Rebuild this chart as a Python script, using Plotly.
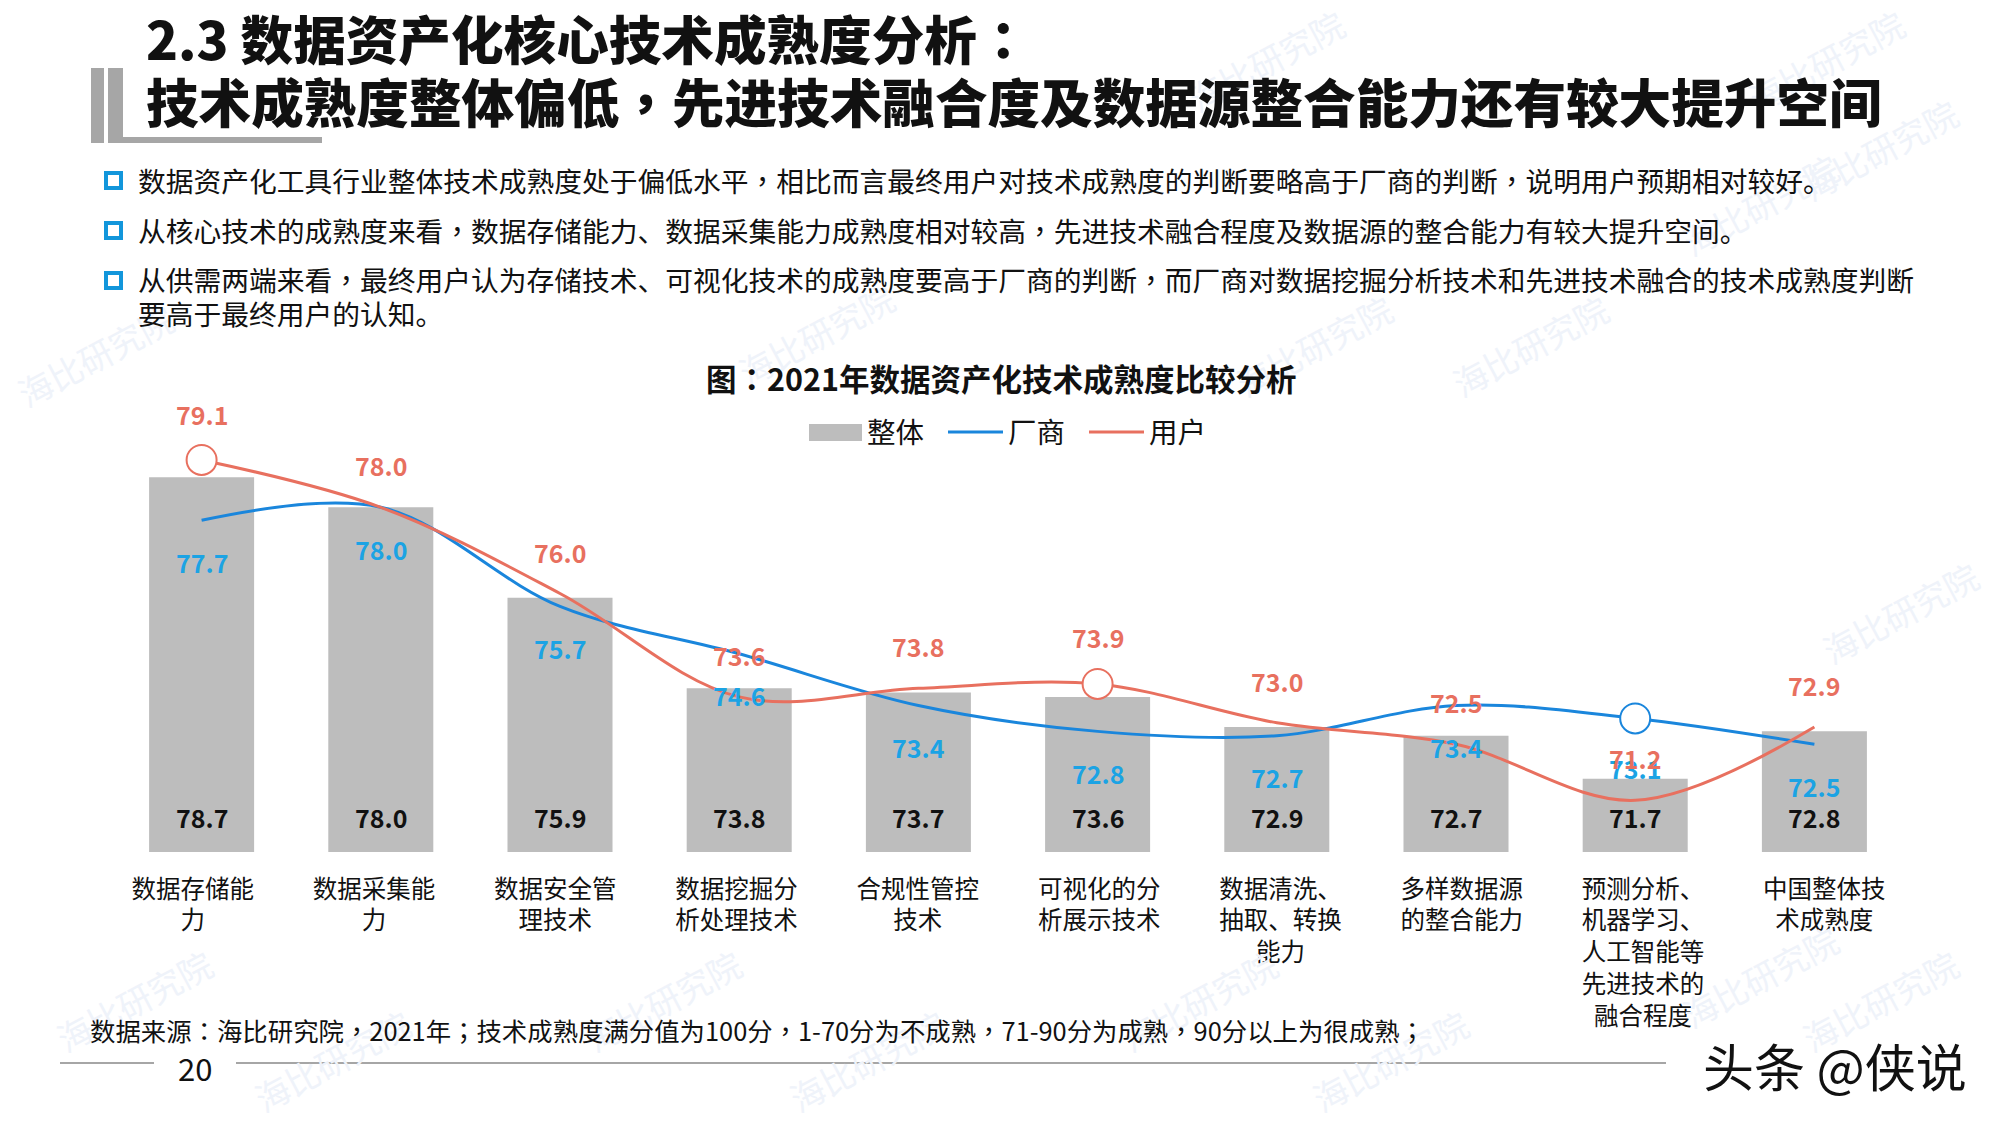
"""
2021 data assetization tech maturity slide: bars for the overall score,
smoothed lines for vendors and end users, plus the slide text around it.
"""
import re

import plotly.graph_objects as go

FONT = "Noto Sans CJK SC"
PUNCT_FONT = "Noto Sans CJK TC"  # its full-width marks sit centred, like the slide
RED = "#E8705F"
BLUE = "#1A86DC"
BLUE_LABEL = "#1BA3E4"
GREY = "#BDBDBD"
RULE = "#A6A6A6"

categories = ["数据存储能<br>力", "数据采集能<br>力", "数据安全管<br>理技术",
              "数据挖掘分<br>析处理技术", "合规性管控<br>技术",
              "可视化的分<br>析展示技术", "数据清洗、<br>抽取、转换<br>能力",
              "多样数据源<br>的整合能力",
              "预测分析、<br>机器学习、<br>人工智能等<br>先进技术的<br>融合程度",
              "中国整体技<br>术成熟度"]
overall = [78.7, 78.0, 75.9, 73.8, 73.7, 73.6, 72.9, 72.7, 71.7, 72.8]
vendor = [77.7, 78.0, 75.7, 74.6, 73.4, 72.8, 72.7, 73.4, 73.1, 72.5]
user = [79.1, 78.0, 76.0, 73.6, 73.8, 73.9, 73.0, 72.5, 71.2, 72.9]

# points that carry the hollow circle in the original
user_circled = [0, 5]
vendor_circled = [8]

title_lines = ["2.3 数据资产化核心技术成熟度分析：",
               "技术成熟度整体偏低，先进技术融合度及数据源整合能力还有较大提升空间"]
bullets = ["数据资产化工具行业整体技术成熟度处于偏低水平，相比而言最终用户对技术成熟度的判断要略高于厂商的判断，说明用户预期相对较好。",
           "从核心技术的成熟度来看，数据存储能力、数据采集能力成熟度相对较高，先进技术融合程度及数据源的整合能力有较大提升空间。",
           "从供需两端来看，最终用户认为存储技术、可视化技术的成熟度要高于厂商的判断，而厂商对数据挖掘分析技术和先进技术融合的技术成熟度判断",
           "要高于最终用户的认知。"]
chart_title = "图：2021年数据资产化技术成熟度比较分析"
source_note = "数据来源：海比研究院，2021年；技术成熟度满分值为100分，1-70分为不成熟，71-90分为成熟，90分以上为很成熟；"

# where the faint "海比研究院" stamps sit on the slide
stamps = [(1266, 60), (1826, 60), (1880, 150), (95, 355), (816, 334),
          (1314, 345), (1530, 345), (1760, 204), (1199, 1000), (1760, 976),
          (1390, 1060), (867, 1060), (663, 1000), (134, 1000), (332, 1060),
          (1880, 1000), (1900, 612)]

LEFT, RIGHT, TOP, BOTTOM = 102, 1915, 335, 852


def px_x(x):
    return (x - LEFT) / (RIGHT - LEFT)


def px_y(y):
    return (BOTTOM - y) / (BOTTOM - TOP)


def centred_marks(text):
    return re.sub("([，；：])", f'<span style="font-family:{PUNCT_FONT}">\\1</span>', text)


def page_text(x, y, text, size, color="#111111", weight=400, anchor="left"):
    return dict(xref="paper", yref="paper", x=px_x(x), y=px_y(y),
                text=centred_marks(text), showarrow=False, xanchor=anchor,
                yanchor="middle",
                font=dict(family=FONT, size=size, color=color, weight=weight))


def value_label(x, y, text, shift, color):
    return dict(x=x, y=y, text=text, showarrow=False, yshift=shift,
                xanchor="center", yanchor="middle",
                font=dict(family=FONT, size=25, color=color, weight=700))


def page_rect(x0, y0, x1, y1, fill, line=None, width=0):
    return dict(type="rect", xref="paper", yref="paper", layer="above",
                x0=px_x(x0), x1=px_x(x1), y0=px_y(y0), y1=px_y(y1),
                fillcolor=fill, line=dict(color=line or fill, width=width))


def page_line(x0, x1, y):
    return dict(type="line", xref="paper", yref="paper", layer="below",
                x0=px_x(x0), x1=px_x(x1), y0=px_y(y), y1=px_y(y),
                line=dict(color=RULE, width=2))


def circles(indices, values, color):
    return go.Scatter(x=[categories[i] for i in indices],
                      y=[values[i] for i in indices], mode="markers",
                      showlegend=False, hoverinfo="skip",
                      marker=dict(size=30, color="white",
                                  line=dict(color=color, width=2)))


fig = go.Figure()
fig.add_trace(go.Bar(x=categories, y=overall, name="整体", marker_color=GREY,
                     marker_line_width=0))
fig.add_trace(go.Scatter(x=categories, y=vendor, name="厂商", mode="lines",
                         line=dict(color=BLUE, width=3, shape="spline", smoothing=1)))
fig.add_trace(go.Scatter(x=categories, y=user, name="用户", mode="lines",
                         line=dict(color=RED, width=3, shape="spline", smoothing=1)))
fig.add_trace(circles(vendor_circled, vendor, BLUE))
fig.add_trace(circles(user_circled, user, RED))
# empty trace, only there so the slightly wider label axis gets drawn
fig.add_trace(go.Scatter(x=categories, y=[None] * 10, xaxis="x2", mode="lines",
                         showlegend=False, hoverinfo="skip"))

notes = []
for x, y in stamps:
    stamp = page_text(x, y, "海比研究院", 34, "#EFF3FA", anchor="center")
    stamp["textangle"] = -28
    notes.append(stamp)

for i in range(10):
    # a few labels sit further from their point on the slide
    user_shift = {0: 46, 5: 47}.get(i, 42)
    vendor_shift = {8: -50}.get(i, -41.5)
    notes.append(value_label(categories[i], 70, f"{overall[i]:.1f}", 35, "#111111"))
    notes.append(value_label(categories[i], vendor[i], f"{vendor[i]:.1f}", vendor_shift, BLUE_LABEL))
    notes.append(value_label(categories[i], user[i], f"{user[i]:.1f}", user_shift, RED))

notes.append(page_text(144, 37, title_lines[0], 52.6, weight=900))
notes.append(page_text(144, 100, title_lines[1], 52.6, weight=900))
for y, line in zip([180, 230, 279, 313], bullets):
    notes.append(page_text(136, y, line, 27.75))
notes.append(page_text(1001, 378, chart_title, 30.5, weight=700, anchor="center"))
notes.append(page_text(88, 1030, source_note, 25.4))
notes.append(page_text(195, 1067, "20", 31, anchor="center"))
notes.append(page_text(1701, 1065, "头条 @侠说", 51))

shapes = [
    page_rect(91, 68, 104, 143, RULE),
    page_rect(108, 68, 123, 143, RULE),
    page_rect(108, 137, 322, 143, RULE),
    page_line(60, 154, 1063),
    page_line(236, 1666, 1063),
    page_rect(809, 424, 862, 441, GREY),
]
for y in [181, 231, 281]:
    shapes.append(page_rect(106, y - 8, 121, y + 7, "white", "#1296DB", 4))

fig.update_layout(
    width=2000, height=1125,
    margin=dict(l=LEFT, r=2000 - RIGHT, t=TOP, b=1125 - BOTTOM),
    paper_bgcolor="white", plot_bgcolor="rgba(0,0,0,0)",
    font=dict(family=FONT, color="#111111"),
    bargap=0.414, shapes=shapes, annotations=notes,
    legend=dict(orientation="h", x=px_x(802), y=px_y(407), xanchor="left",
                yanchor="top", itemwidth=55, entrywidth=71,
                font=dict(size=28.5), bgcolor="rgba(0,0,0,0)"),
    xaxis=dict(domain=[px_x(112), px_x(1904)], type="category",
               categoryorder="array", categoryarray=categories,
               range=[-0.5, 9.5], showticklabels=False, ticks="",
               showgrid=False, zeroline=False, showline=False),
    xaxis2=dict(domain=[0, 1], anchor="y", type="category",
                categoryorder="array", categoryarray=categories,
                range=[-0.5, 9.5], ticks="", ticklabelstandoff=20,
                tickfont=dict(size=24.5, color="#111111"), tickangle=0,
                showgrid=False, zeroline=False, showline=False),
    yaxis=dict(range=[70, 82], visible=False, showgrid=False, zeroline=False),
)

# the page's default body margin would push the slide 8px off the window
fig.write_html("out.html", config={"displayModeBar": False},
               post_script="document.body.style.margin = '0';")
